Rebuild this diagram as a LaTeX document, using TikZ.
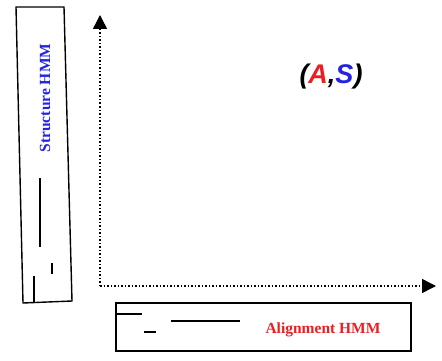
\documentclass[tikz,border=0pt]{standalone}
\usepackage{fontspec}
\setmainfont{Liberation Serif}
\newfontfamily\labsans{Liberation Sans}
\usetikzlibrary{arrows.meta}
\definecolor{lblred}{RGB}{235,30,35}
\definecolor{lblblue}{RGB}{35,35,225}
\tikzset{
  boxline/.style={line width=1.4pt,line join=miter},
  mark line/.style={line width=1.2pt},
  axis/.style={dotted,line width=1.5pt,-{Triangle[length=14pt,width=14pt]}},
  hmmlabel/.style={font=\fontsize{15.5}{18}\selectfont\bfseries,inner sep=0pt}
}
\begin{document}
\begin{tikzpicture}[x=1pt,y=-1pt]
\useasboundingbox (0,0) rectangle (442,361);
% structure box (slightly tilted)
\draw[boxline] (16,7) -- (64,7) -- (72,301) -- (23,303) -- cycle;
\node[hmmlabel,text=lblblue,rotate=90] (shmm) at (45,98) {Structure HMM};
\draw[mark line] (40,178) -- (40,247);
\draw[mark line] (52,263) -- (52,274);
\draw[mark line] (34,276) -- (34,303);
% axes
\coordinate (origin) at (100,286);
\coordinate (ytip) at (100,15);
\coordinate (xtip) at (436,286);
\draw[axis] (origin) -- (ytip);
\draw[axis] (origin) -- (xtip);
% alignment box
\draw[boxline] (116,303) rectangle (411,351);
\node[hmmlabel,text=lblred] (ahmm) at (323,330) {Alignment HMM};
\draw[mark line] (115,314) -- (142,314);
\draw[mark line] (144,332) -- (156,332);
\draw[mark line] (171,321) -- (240,321);
% pair label
\node[font=\labsans\fontsize{27}{32}\selectfont\bfseries\itshape,inner sep=0pt] (pair) at (331,77)
  {(\textcolor{lblred}{A},\textcolor{lblblue}{S})};
\end{tikzpicture}
\end{document}
